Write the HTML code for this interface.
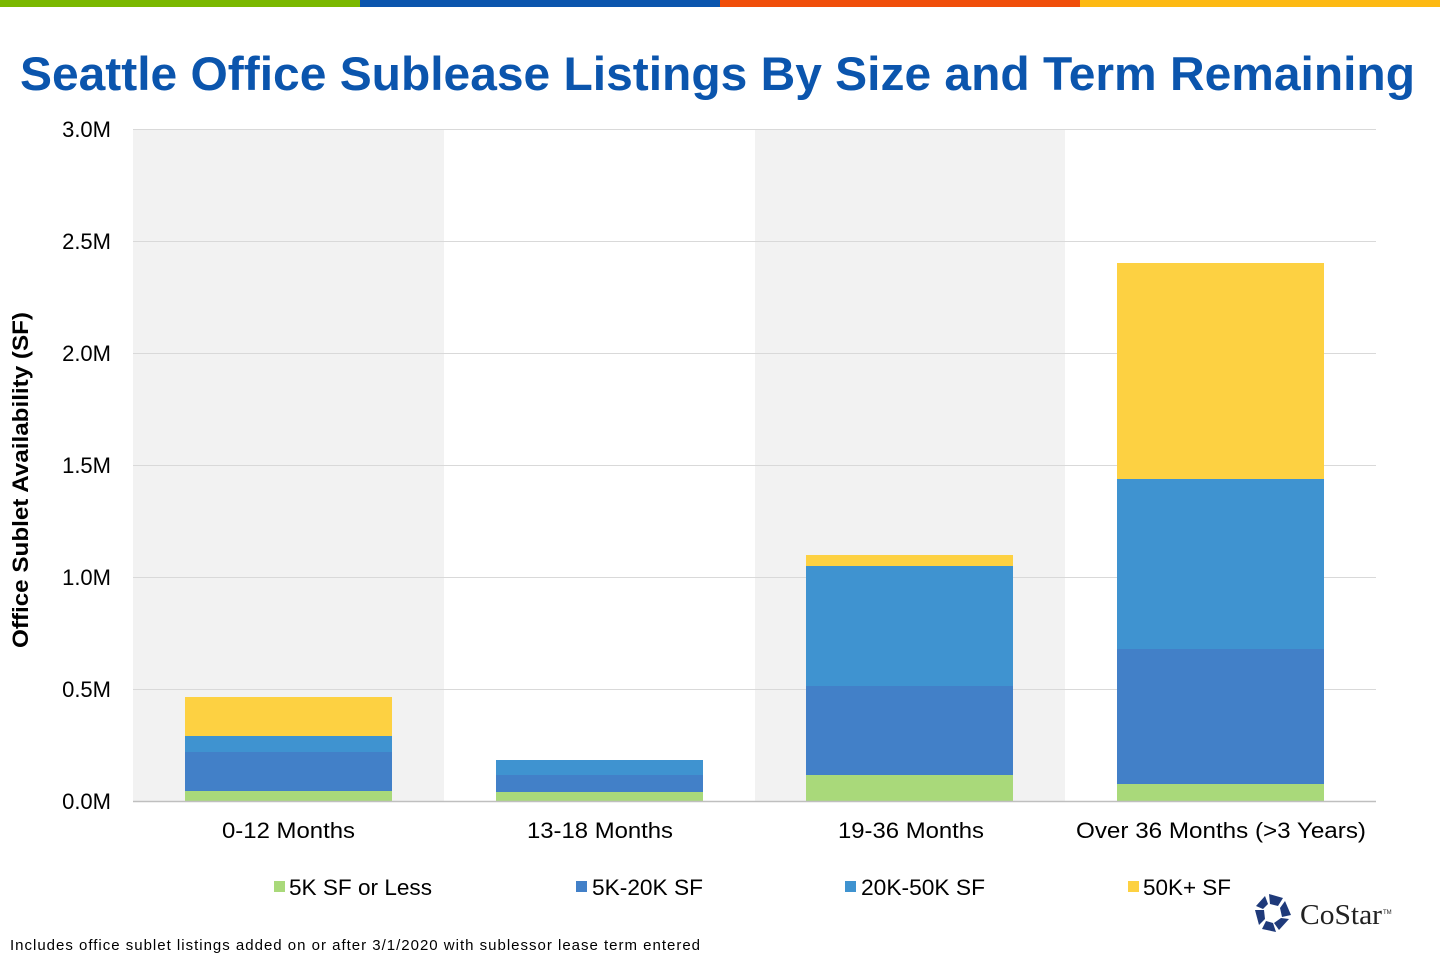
<!DOCTYPE html>
<html><head><meta charset="utf-8"><style>
html,body{margin:0;padding:0;background:#fff}
svg{display:block}
text{font-family:"Liberation Sans",Arial,sans-serif}
</style></head><body>
<svg width="1440" height="960" viewBox="0 0 1440 960" xmlns="http://www.w3.org/2000/svg">
<rect x="0" y="0" width="360" height="7" fill="#7ab800"/>
<rect x="360" y="0" width="360" height="7" fill="#0b55ad"/>
<rect x="720" y="0" width="360" height="7" fill="#f04e0a"/>
<rect x="1080" y="0" width="360" height="7" fill="#fdb913"/>
<text x="20" y="90" font-size="47" font-weight="bold" fill="#0b55ad" textLength="1395" lengthAdjust="spacingAndGlyphs">Seattle Office Sublease Listings By Size and Term Remaining</text>
<rect x="133" y="129" width="311" height="672" fill="#f2f2f2"/>
<rect x="755" y="129" width="310" height="672" fill="#f2f2f2"/>
<g stroke="#d9d9d9" stroke-width="1">
<line x1="133" x2="1376" y1="129.5" y2="129.5"/>
<line x1="133" x2="1376" y1="241.5" y2="241.5"/>
<line x1="133" x2="1376" y1="353.5" y2="353.5"/>
<line x1="133" x2="1376" y1="465.5" y2="465.5"/>
<line x1="133" x2="1376" y1="577.5" y2="577.5"/>
<line x1="133" x2="1376" y1="689.5" y2="689.5"/>
</g>
<g font-size="22" fill="#000" text-anchor="end">
<text x="111" y="137">3.0M</text>
<text x="111" y="249">2.5M</text>
<text x="111" y="361">2.0M</text>
<text x="111" y="473">1.5M</text>
<text x="111" y="585">1.0M</text>
<text x="111" y="697">0.5M</text>
<text x="111" y="809">0.0M</text>
</g>
<text transform="translate(28,648) rotate(-90)" font-size="22" font-weight="bold" textLength="336" lengthAdjust="spacingAndGlyphs">Office Sublet Availability  (SF)</text>
<rect x="185" y="791" width="207" height="10" fill="#a9d97a"/>
<rect x="185" y="752" width="207" height="39" fill="#4280c8"/>
<rect x="185" y="736" width="207" height="16" fill="#3f93d0"/>
<rect x="185" y="697" width="207" height="39" fill="#fdd142"/>
<rect x="496" y="792" width="207" height="9" fill="#a9d97a"/>
<rect x="496" y="775" width="207" height="17" fill="#4280c8"/>
<rect x="496" y="760" width="207" height="15" fill="#3f93d0"/>
<rect x="806" y="775" width="207" height="26" fill="#a9d97a"/>
<rect x="806" y="686" width="207" height="89" fill="#4280c8"/>
<rect x="806" y="566" width="207" height="120" fill="#3f93d0"/>
<rect x="806" y="555" width="207" height="11" fill="#fdd142"/>
<rect x="1117" y="784" width="207" height="17" fill="#a9d97a"/>
<rect x="1117" y="649" width="207" height="135" fill="#4280c8"/>
<rect x="1117" y="479" width="207" height="170" fill="#3f93d0"/>
<rect x="1117" y="263" width="207" height="216" fill="#fdd142"/>
<line x1="133" x2="1376" y1="801.5" y2="801.5" stroke="#bfbfbf" stroke-width="1.5"/>
<g font-size="22">
<text x="222" y="838" textLength="133" lengthAdjust="spacingAndGlyphs">0-12 Months</text>
<text x="527" y="838" textLength="146" lengthAdjust="spacingAndGlyphs">13-18 Months</text>
<text x="838" y="838" textLength="146" lengthAdjust="spacingAndGlyphs">19-36 Months</text>
<text x="1076" y="838" textLength="290" lengthAdjust="spacingAndGlyphs">Over 36 Months (&gt;3 Years)</text>
</g>
<g font-size="22">
<rect x="274" y="881" width="11" height="11" fill="#a9d97a"/><text x="289" y="895" textLength="143" lengthAdjust="spacingAndGlyphs">5K SF or Less</text>
<rect x="576" y="881" width="11" height="11" fill="#4280c8"/><text x="592" y="895" textLength="111" lengthAdjust="spacingAndGlyphs">5K-20K SF</text>
<rect x="845" y="881" width="11" height="11" fill="#3f93d0"/><text x="861" y="895" textLength="124" lengthAdjust="spacingAndGlyphs">20K-50K SF</text>
<rect x="1128" y="881" width="11" height="11" fill="#fdd142"/><text x="1143" y="895" textLength="88" lengthAdjust="spacingAndGlyphs">50K+ SF</text>
</g>
<text x="10" y="950" font-size="15" textLength="690" lengthAdjust="spacing">Includes office sublet listings added on or after 3/1/2020 with sublessor lease term entered</text>
<g fill="#1f3a7a" transform="translate(1273,913)">
<polygon points="-4,-19 10,-15 5,-7 -3,-9"/>
<polygon points="12,-12 18,2 9,4 7,-5"/>
<polygon points="16,6 6,17 1,10 8,5"/>
<polygon points="3,19 -11,16 -7,8 0,10"/>
<polygon points="-14,12 -18,-3 -9,-3 -8,6"/>
<polygon points="-17,-7 -8,-17 -5,-9 -10,-4"/>
</g>
<text x="1300" y="924" style="font-family:'Liberation Serif',serif" font-size="29" fill="#222" textLength="82" lengthAdjust="spacingAndGlyphs">CoStar</text>
<text x="1383" y="914" font-size="6" fill="#222">TM</text>
</svg>
</body></html>
